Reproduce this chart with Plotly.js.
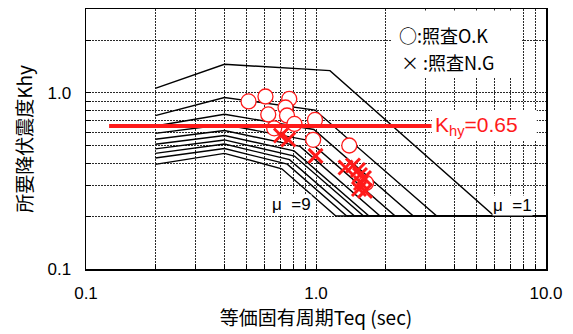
<!DOCTYPE html>
<html><head><meta charset="utf-8">
<script src="https://cdn.plot.ly/plotly-3.0.1.min.js"></script>
<style>html,body{margin:0;padding:0;background:#fff}#chart{width:573px;height:334px}</style>
</head><body><div id="chart"></div>
<script>
// ---- data ----
const muNames    = ['μ=1','μ=2','μ=3','μ=4','μ=5','μ=6','μ=7','μ=8','μ=9a','μ=9'];
const startT     = 0.2;
const peakT      = 0.4;
const lastT      = 10;
const floorK     = 0.2;
const startK     = [1.063, 0.743, 0.649, 0.590, 0.546, 0.511, 0.481, 0.454, 0.427, 0.393];
const peakK      = [1.456, 0.943, 0.757, 0.662, 0.612, 0.573, 0.541, 0.513, 0.484, 0.454];
const cornerT    = [1.15, 0.990, 0.979, 0.925, 0.852, 0.803, 0.806, 0.767, 0.750, 0.710];
const cornerK    = [1.339, 0.800, 0.620, 0.538, 0.497, 0.469, 0.438, 0.418, 0.394, 0.371];
const floorT     = [5.96, 3.35, 2.65, 2.21, 1.90, 1.70, 1.61, 1.47, 1.36, 1.22];

const okT = [0.509, 0.603, 0.765, 0.620, 0.737, 0.748, 0.806, 0.658, 0.990, 0.972, 1.395, 1.650];
const okK = [0.895, 0.955, 0.925, 0.755, 0.827, 0.745, 0.667, 0.630, 0.703, 0.542, 0.503, 0.308];
const ngT = [0.704, 0.758, 0.995, 1.344, 1.448, 1.522, 1.553, 1.617, 1.569, 1.538, 1.633];
const ngK = [0.573, 0.544, 0.439, 0.377, 0.387, 0.365, 0.342, 0.329, 0.308, 0.285, 0.278];

const khyValue = 0.65;
const khyT     = [0.126, 3.18];

const xMajorVals = [0.1, 1, 10];
const xMajorText = ['0.1', '1.0', '10.0'];
const xMinorVals = [0.2,0.3,0.4,0.5,0.6,0.7,0.8,0.9,2,3,4,5,6,7,8,9];
const yMajorVals = [0.1, 1];
const yMajorText = ['0.1', '1.0'];
const yMinorVals = [0.2,0.3,0.4,0.5,0.6,0.7,0.8,0.9,2,3];

// ---- build traces ----
const traces = [];
for (let i = 0; i < startK.length; i++) {
  traces.push({
    type: 'scatter', mode: 'lines', name: muNames[i], showlegend: false,
    x: [startT, peakT, cornerT[i], floorT[i], lastT],
    y: [startK[i], peakK[i], cornerK[i], floorK, floorK],
    line: {color: '#000', width: 1.4}, hoverinfo: 'skip'
  });
}
traces.push({
  type: 'scatter', mode: 'markers', name: '照査O.K', showlegend: false,
  x: okT, y: okK,
  marker: {symbol: 'circle', size: 15, color: '#fff', line: {color: '#ff1a1a', width: 1.3}}
});
traces.push({
  type: 'scatter', mode: 'markers', name: '照査N.G', showlegend: false,
  x: ngT, y: ngK,
  marker: {symbol: 'x-thin-open', size: 14, color: '#ff1a1a', line: {color: '#ff1a1a', width: 3}}
});
traces.push({
  type: 'scatter', mode: 'lines', name: 'Khy', showlegend: false,
  x: khyT, y: [khyValue, khyValue],
  line: {color: '#ff1a1a', width: 4}
});

const numFont = 'Liberation Sans, Arial, sans-serif';
const jpFont = 'Noto Sans CJK JP, sans-serif';
const gridColor = '#2a2a2a';
const gridDash = '2px,1px';

const axisCommon = {
  type: 'log', showline: true, linecolor: '#000', linewidth: 1.5, mirror: true,
  ticks: 'inside', ticklen: 5, tickcolor: '#000', tickmode: 'array',
  showgrid: true, gridcolor: gridColor, gridwidth: 1, griddash: gridDash,
  zeroline: false, tickfont: {family: numFont, size: 17, color: '#000'}
};
const minorCommon = {
  tickmode: 'array', ticks: 'inside', ticklen: 5, tickcolor: '#000',
  showgrid: true, gridcolor: gridColor, gridwidth: 1, griddash: gridDash
};

const layout = {
  width: 573, height: 334,
  margin: {l: 86, r: 27, t: 9, b: 65},
  paper_bgcolor: '#fff', plot_bgcolor: '#fff',
  showlegend: false,
  xaxis: Object.assign({}, axisCommon, {
    range: [-1, 1], tickvals: xMajorVals, ticktext: xMajorText, ticklabelstandoff: 8,
    minor: Object.assign({}, minorCommon, {tickvals: xMinorVals}),
    title: {text: '等価固有周期Teq (sec)', font: {family: jpFont, size: 19, color: '#000'}, standoff: 7}
  }),
  yaxis: Object.assign({}, axisCommon, {
    range: [-1, Math.log10(3)], tickvals: yMajorVals, ticktext: yMajorText, ticklabelstandoff: 10,
    minor: Object.assign({}, minorCommon, {tickvals: yMinorVals}),
    title: {text: '所要降伏震度Khy', font: {family: jpFont, size: 19, color: '#000'}, standoff: 10}
  }),
  shapes: [
    {type: 'rect', xref: 'paper', yref: 'paper', x0: 0.665, x1: 0.948, y0: 0.738, y1: 0.994,
     fillcolor: '#fff', line: {width: 0}, layer: 'above'},
    {type: 'rect', xref: 'paper', yref: 'paper', x0: 0.752, x1: 0.98, y0: 0.496, y1: 0.612,
     fillcolor: '#fff', line: {width: 0}, layer: 'above'}
  ],
  annotations: [
    {xref: 'paper', yref: 'paper', x: 0.676, y: 0.90, xanchor: 'left', yanchor: 'middle',
     text: '○:照査O.K', showarrow: false,
     font: {family: jpFont, size: 18, color: '#000'}},
    {xref: 'paper', yref: 'paper', x: 0.680, y: 0.796, xanchor: 'left', yanchor: 'middle',
     text: '× :照査N.G', showarrow: false,
     font: {family: jpFont, size: 18, color: '#000'}},
    {xref: 'paper', yref: 'y', x: 0.754, y: Math.log10(khyValue), xanchor: 'left', yanchor: 'middle',
     text: 'K<sub>hy</sub>=0.65', showarrow: false,
     font: {family: numFont, size: 21, color: '#ff1a1a'}},
    {xref: 'paper', yref: 'paper', x: 0.447, y: 0.25, xanchor: 'center', yanchor: 'middle',
     text: 'μ  =9', showarrow: false, font: {family: numFont, size: 17, color: '#000'}, bgcolor: '#fff', borderpad: 0},
    {xref: 'paper', yref: 'paper', x: 0.927, y: 0.246, xanchor: 'center', yanchor: 'middle',
     text: 'μ  =1', showarrow: false, font: {family: numFont, size: 17, color: '#000'}, bgcolor: '#fff', borderpad: 0}
  ]
};

Plotly.newPlot('chart', traces, layout, {staticPlot: true, displayModeBar: false});
</script>
</body></html>
